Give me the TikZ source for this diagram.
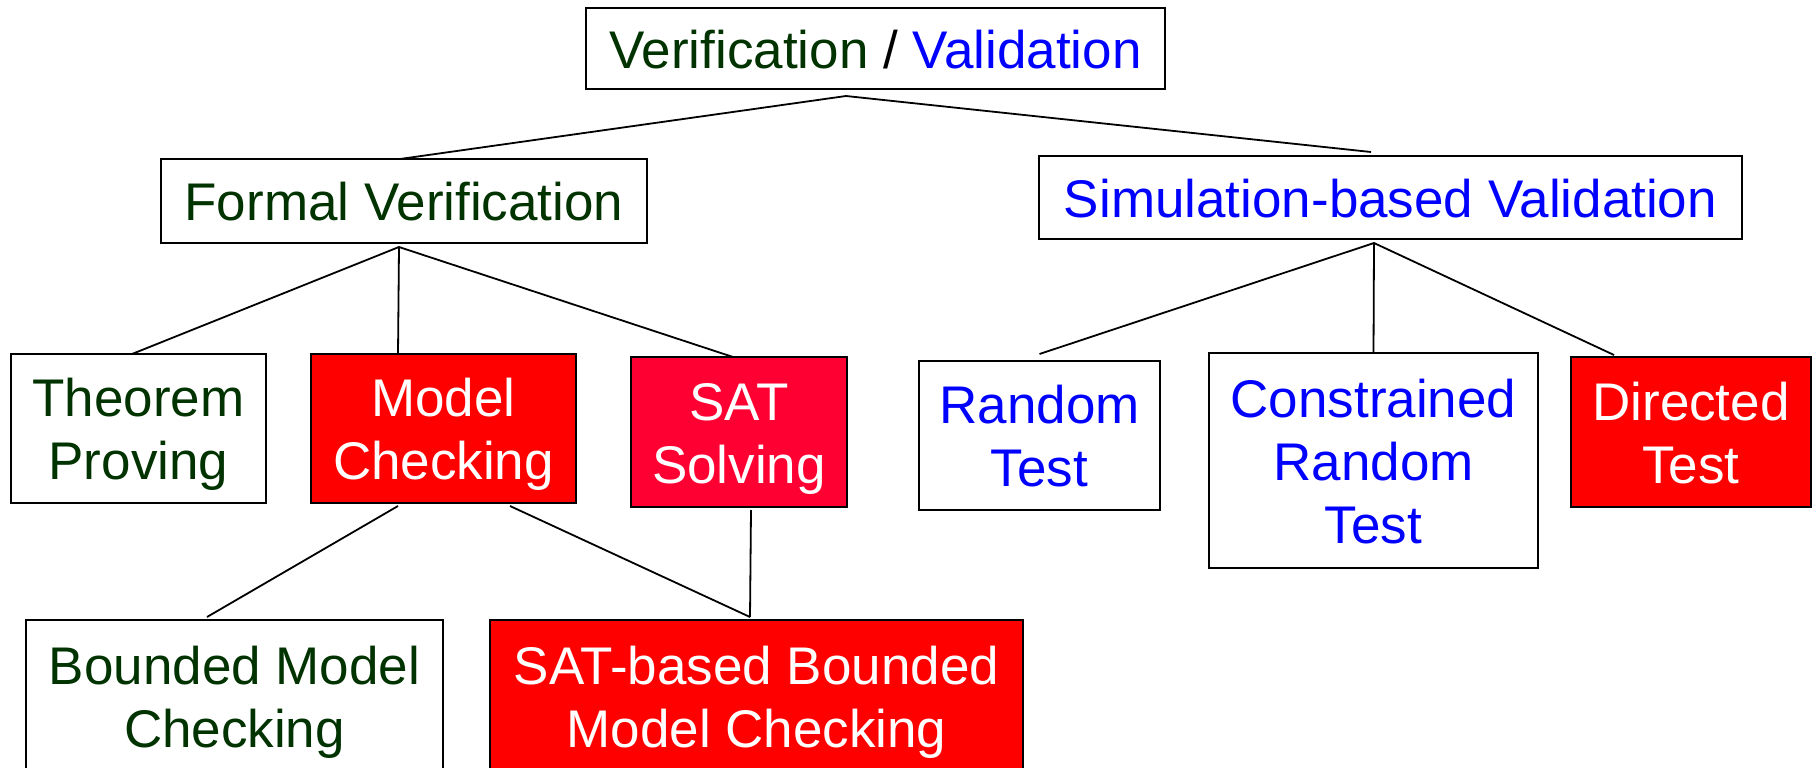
\documentclass[tikz,border=0pt]{standalone}
\usepackage{fontspec}
\setmainfont{Liberation Sans}
\definecolor{vgreen}{HTML}{003300}
\definecolor{vblue}{HTML}{0000FF}
\definecolor{hotred}{HTML}{FF0000}
\definecolor{satred}{HTML}{FF0033}
% fixed line height/depth so every line sits on the same grid
\newcommand\ls{\rule[-11.5pt]{0pt}{62.5pt}}

\begin{document}
\begin{tikzpicture}[x=1pt,y=-1pt,
  box/.style={draw=black, line width=2pt, inner sep=0pt, outer sep=0pt,
    align=center, font=\fontsize{53}{63}\selectfont},
  plainbox/.style={box, fill=white},
  hotbox/.style={box, fill=hotred, text=white},
  link/.style={line width=1.8pt, draw=black}]

\useasboundingbox (0,0) rectangle (1817,768);
\fill[white] (0,0) rectangle (1817,768);

% root
\node[plainbox, minimum width=579pt, minimum height=81pt] (root) at (875.5,48.5)
  {\ls{\color{vgreen}Verification} / {\color{vblue}Validation}};

% second level
\node[plainbox, text=vgreen, minimum width=486pt, minimum height=84pt] (fv) at (404,201)
  {\ls Formal Verification};
\node[plainbox, text=vblue, minimum width=703pt, minimum height=83pt] (sbv) at (1390.5,197.5)
  {\ls Simulation-based Validation};

% formal branch
\node[plainbox, text=vgreen, minimum width=255pt, minimum height=149pt] (tp) at (138.5,428.5)
  {\ls Theorem\\\ls Proving};
\node[hotbox, minimum width=265pt, minimum height=149pt] (mc) at (443.5,428.5)
  {\ls Model\\\ls Checking};
\node[hotbox, fill=satred, minimum width=216pt, minimum height=150pt] (sat) at (739,432)
  {\ls SAT\\\ls Solving};

% simulation branch
\node[plainbox, text=vblue, minimum width=241pt, minimum height=149pt] (rt) at (1039.5,435.5)
  {\ls Random\\\ls Test};
\node[plainbox, text=vblue, minimum width=329pt, minimum height=215pt] (crt) at (1373.5,460.5)
  {\ls Constrained\\\ls Random\\\ls Test};
\node[hotbox, minimum width=240pt, minimum height=150pt] (dt) at (1691,432)
  {\ls Directed\\\ls Test};

% bottom level
\node[plainbox, text=vgreen, minimum width=417pt, minimum height=152pt] (bmc) at (234.5,696)
  {\ls Bounded Model\\\ls Checking};
\node[hotbox, minimum width=533pt, minimum height=152pt] (sbmc) at (756.5,696)
  {\ls SAT-based Bounded\\\ls Model Checking};

% branching points
\coordinate (rootfork) at ([xshift=-29.5pt,yshift=-7pt]root.south);
\coordinate (fvfork) at ([xshift=-5pt,yshift=-4pt]fv.south);
\coordinate (sbvfork) at ([xshift=-16.5pt,yshift=-4pt]sbv.south);
\coordinate (sbmcjoin) at ([xshift=-6.5pt,yshift=3pt]sbmc.north);

% connectors
\draw[link] ([xshift=-4pt]fv.north) -- (rootfork) -- ([xshift=-19.5pt,yshift=4pt]sbv.north);

\draw[link] ([xshift=-6.5pt]tp.north) -- (fvfork) -- ([xshift=-6pt]sat.north);
\draw[link] (fvfork) -- ([xshift=-45.5pt]mc.north);

\draw[link] ([yshift=7pt]rt.north) -- (sbvfork) -- ([xshift=-77pt,yshift=2pt]dt.north);
\draw[link] (sbvfork) -- (crt.north);

\draw[link] ([xshift=-45.5pt,yshift=-3pt]mc.south) -- ([xshift=-27.5pt,yshift=3pt]bmc.north);
\draw[link] ([xshift=66.5pt,yshift=-3pt]mc.south) -- (sbmcjoin);
\draw[link] ([xshift=12pt,yshift=-3pt]sat.south) -- (sbmcjoin);
\end{tikzpicture}
\end{document}
